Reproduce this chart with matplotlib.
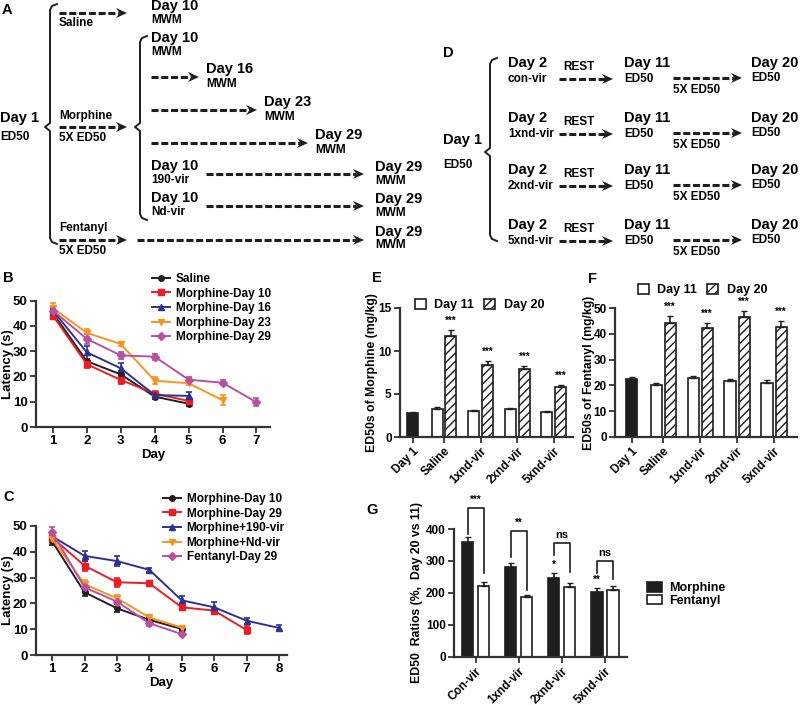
import matplotlib
matplotlib.use('Agg')
import matplotlib.pyplot as plt
import numpy as np
from matplotlib.lines import Line2D
from matplotlib.patches import Patch

plt.rcParams['font.family'] = ['Liberation Sans', 'DejaVu Sans']
plt.rcParams['font.weight'] = 'bold'
plt.rcParams['axes.labelweight'] = 'bold'
plt.rcParams['hatch.linewidth'] = 1.0

W, H = 800, 705
K = '#1e1e1e'
AXC = '#333333'

# ---------------- data ----------------
# panel B: latency per day
b_labels = ['Saline', 'Morphine-Day 10', 'Morphine-Day 16', 'Morphine-Day 23', 'Morphine-Day 29']
b_saline = [45, 26, 20.8, 12, 9.2]
b_saline_err = [1.5, 1.0, 1.0, 0.8, 0.8]
b_m10 = [44, 24.8, 18.6, 13.2, 10.3]
b_m10_err = [1.5, 1.5, 1.5, 1.0, 1.0]
b_m16 = [46, 29.5, 23.2, 12.6, 12.3]
b_m16_err = [1.5, 2.5, 2.0, 1.0, 1.5]
b_m23 = [47, 37.2, 32.8, 18.3, 17.3, 10.6]
b_m23_err = [2.0, 1.5, 0.8, 1.5, 0.8, 2.0]
b_m29 = [46, 34.8, 28.3, 27.8, 18.7, 17.5, 9.8]
b_m29_err = [1.5, 2.0, 1.5, 1.2, 1.0, 1.0, 1.5]

# panel C
c_labels = ['Morphine-Day 10', 'Morphine-Day 29', 'Morphine+190-vir', 'Morphine+Nd-vir', 'Fentanyl-Day 29']
c_m10 = [44, 24.3, 18.1, 13.6, 10.1]
c_m10_err = [1.5, 1.5, 1.5, 1.0, 1.0]
c_m29 = [45.5, 34.6, 28.2, 27.8, 18.5, 17.2, 9.7]
c_m29_err = [1.5, 2.0, 1.8, 1.0, 1.0, 1.0, 1.5]
c_190 = [46, 38.4, 36.4, 33, 21.2, 18.5, 13.3, 10.5]
c_190_err = [1.5, 2.0, 1.8, 0.8, 1.5, 2.0, 1.2, 1.0]
c_nd = [45, 27.4, 22, 14.6, 10.6]
c_nd_err = [1.5, 1.5, 1.2, 1.0, 0.8]
c_fent = [47.5, 26.2, 20.7, 12.3, 8.1]
c_fent_err = [2.0, 1.5, 2.0, 1.0, 0.8]

# panels E, F: ED50
ef_groups = ['Day 1', 'Saline', '1xnd-vir', '2xnd-vir', '5xnd-vir']
e_day1, e_day1_err = 2.8, 0.1
e_d11 = [3.3, 3.0, 3.25, 2.9]
e_d11_err = [0.15, 0.1, 0.1, 0.1]
e_d20 = [11.8, 8.4, 7.9, 5.8]
e_d20_err = [0.6, 0.4, 0.35, 0.3]
f_day1, f_day1_err = 22.3, 1.0
f_d11 = [20.0, 23.0, 21.7, 20.8]
f_d11_err = [1.0, 0.8, 0.8, 1.2]
f_d20 = [44.4, 42.3, 46.6, 42.6]
f_d20_err = [2.6, 2.0, 2.5, 2.5]
ef_stars = ['***', '***', '***', '***']

# panel G: ratios
g_groups = ['Con-vir', '1xnd-vir', '2xnd-vir', '5xnd-vir']
g_morphine = [360, 281, 248, 204]
g_morphine_err = [14, 11, 14, 11]
g_fentanyl = [223, 186, 218, 209]
g_fentanyl_err = [11, 8, 13, 12]
g_pair_sig = ['***', '**', 'ns', 'ns']
g_bar_sig = ['', '', '*', '**']
g_br_top = [466, 394, 357, 300]
g_br_left = [383, 313, 319, 262]
g_br_right = [262, 209, 266, 243]

colors = ['#231f20', '#ed1c24', '#2e3192', '#f7941e', '#b9509f']
markers = ['o', 's', '^', 'v', 'D']

fig = plt.figure(figsize=(W / 100, H / 100), dpi=100)


def px_axes(l, t, r, b):
    return fig.add_axes([l / W, 1 - b / H, (r - l) / W, (b - t) / H])


def style(ax, size=9.5):
    for s in ['top', 'right']:
        ax.spines[s].set_visible(False)
    for s in ['left', 'bottom']:
        ax.spines[s].set_linewidth(1.6)
        ax.spines[s].set_color(AXC)
    ax.tick_params(direction='out', length=4, width=1.3, color=AXC,
                   labelsize=size, pad=2)


# ---------------- schematic overlay (A, D) ----------------
ov = fig.add_axes([0, 0, 1, 1])
ov.set_xlim(0, W)
ov.set_ylim(H, 0)
ov.axis('off')


def txt(x, y, s, big=False):
    ov.text(x, y, s, fontsize=10.5 if big else 8.5, ha='left', va='center')


def darrow(x0, x1, y):
    ov.plot([x0, x1 - 8], [y, y], color=K, lw=2.2, dashes=(2.3, 0.9),
            dash_capstyle='butt')
    ov.fill([x1, x1 - 11, x1 - 7.5, x1 - 11], [y, y - 5, y, y + 5],
            color=K, lw=0)


def brace(x, y0, ym, y1):
    ov.plot([x + 7, x + 2, x, x, x - 5, x, x, x + 2, x + 7],
            [y0 - 2, y0, y0 + 4, ym - 4, ym, ym + 4, y1 - 4, y1, y1 + 2],
            color=K, lw=1.4)


for letter, x, y in [('A', 2, 10), ('B', 3, 278), ('C', 3, 497), ('D', 443, 53),
                     ('E', 372, 278), ('F', 588, 279), ('G', 366, 510)]:
    ov.text(x, y, letter, fontsize=10.5, ha='left', va='center')

# panel A
brace(50, 6, 127, 242)
brace(140, 38, 127, 218)
txt(0, 118, 'Day 1', True)
txt(0, 137, 'ED50')
darrow(59, 127, 13)
txt(59, 23, 'Saline')
txt(151, 6, 'Day 10', True)
txt(151, 20, 'MWM')
txt(59, 116, 'Morphine')
darrow(59, 127, 127)
txt(59, 138, '5X ED50')
txt(151, 38, 'Day 10', True)
txt(151, 52, 'MWM')
for (x1, y, tx) in [(199, 77, 'Day 16'), (257, 110, 'Day 23'), (308, 143, 'Day 29')]:
    darrow(151, x1, y)
    txt(x1 + 7, y - 8, tx, True)
    txt(x1 + 7, y + 7, 'MWM')
for (y, sub) in [(166, '190-vir'), (198, 'Nd-vir')]:
    txt(151, y, 'Day 10', True)
    txt(151, y + 14, sub)
    darrow(206, 364, y + 8)
    txt(375, y + 1, 'Day 29', True)
    txt(375, y + 15, 'MWM')
txt(59, 228, 'Fentanyl')
darrow(59, 127, 240)
darrow(137, 364, 240)
txt(59, 251, '5X ED50')
txt(375, 232, 'Day 29', True)
txt(375, 245, 'MWM')

# panel D
brace(490, 60, 152, 239)
txt(443, 140, 'Day 1', True)
txt(443, 165, 'ED50')
for r, sub in zip([63, 118, 170, 225], ['con-vir', '1xnd-vir', '2xnd-vir', '5xnd-vir']):
    txt(508, r, 'Day 2', True)
    txt(508, r + 16, sub)
    txt(563, r + 4, 'REST')
    darrow(559, 613, r + 16)
    txt(624, r, 'Day 11', True)
    txt(624, r + 16, 'ED50')
    darrow(673, 742, r + 15)
    txt(673, r + 27, '5X ED50')
    txt(751, r, 'Day 20', True)
    txt(751, r + 15, 'ED50')


# ---------------- line panels (B, C) ----------------
def line_panel(box, series, xmax, leg_xy, xlab_y, ylab_x):
    ax = px_axes(*box)
    handles = []
    for (lab, y, e), c, m in zip(series, colors, markers):
        x = np.arange(1, len(y) + 1)
        ax.errorbar(x, y, yerr=e, color=c, marker=m, ms=4, lw=1.4,
                    capsize=2.5, capthick=1.2, elinewidth=1.2, clip_on=False)
        handles.append(Line2D([], [], color=c, marker=m, ms=4, lw=1.4, label=lab))
    ax.set_xlim(0.5, xmax)
    ax.set_ylim(0, 50)
    ax.set_yticks(range(0, 51, 10))
    ax.set_xticks(range(1, int(xmax) + 1))
    ax.set_xlabel('Day', fontsize=9.5)
    ax.set_ylabel('Latency (s)', fontsize=9.5)
    ax.xaxis.set_label_coords(0.5, xlab_y)
    ax.yaxis.set_label_coords(ylab_x, 0.5)
    style(ax)
    fig.legend(handles=handles, loc='upper left',
               bbox_to_anchor=(leg_xy[0] / W, 1 - leg_xy[1] / H),
               frameon=False, fontsize=8.5, handlelength=1.5, handletextpad=0.5,
               labelspacing=0.22, borderpad=0, borderaxespad=0)
    return ax


line_panel((36, 300.5, 270, 427),
           list(zip(b_labels, [b_saline, b_m10, b_m16, b_m23, b_m29],
                    [b_saline_err, b_m10_err, b_m16_err, b_m23_err, b_m29_err])),
           7.4, (152, 273), -0.17, -0.094)
line_panel((36, 526, 287, 655),
           list(zip(c_labels, [c_m10, c_m29, c_190, c_nd, c_fent],
                    [c_m10_err, c_m29_err, c_190_err, c_nd_err, c_fent_err])),
           8.25, (163, 493), -0.17, -0.088)


# ---------------- bar panels (E, F) ----------------
def ed50_panel(box, day1, day1_err, d11, d11_err, d20, d20_err, ymax, ystep,
               xlim, ylabel, ylab_x, leg_xy):
    ax = px_axes(*box)
    w, off, x1 = 0.3, 0.19, 0.15
    xs = np.arange(1, len(d11) + 1)
    ax.bar(x1, day1, w, color=K, edgecolor=K, lw=1.2)
    ax.errorbar([x1], [day1], yerr=[[0], [day1_err]], fmt='none', ecolor=K,
                capsize=2.5, elinewidth=1.2)
    ax.bar(xs - off, d11, w, color='white', edgecolor=K, lw=1.2)
    ax.errorbar(xs - off, d11, yerr=[np.zeros(len(d11)), d11_err], fmt='none',
                ecolor=K, capsize=2.5, elinewidth=1.2)
    ax.bar(xs + off, d20, w, color='white', edgecolor=K, lw=1.2, hatch='////')
    ax.errorbar(xs + off, d20, yerr=[np.zeros(len(d20)), d20_err], fmt='none',
                ecolor=K, capsize=2.5, elinewidth=1.2)
    for xi, v, e, s in zip(xs + off, d20, d20_err, ef_stars):
        ax.annotate(s, (xi, v + e), xytext=(0, 3), textcoords='offset points',
                    ha='center', va='bottom', fontsize=7)
    ax.set_xlim(*xlim)
    ax.set_ylim(0, ymax)
    ax.set_yticks(np.arange(0, ymax + 1, ystep))
    ax.set_xticks([x1, *xs])
    ax.set_xticklabels(ef_groups, rotation=45, ha='right', va='top',
                       rotation_mode='anchor')
    ax.set_ylabel(ylabel, fontsize=8.8)
    ax.yaxis.set_label_coords(ylab_x, 0.5)
    style(ax, 8.5)
    fig.legend(handles=[Patch(facecolor='white', edgecolor=K, lw=1.2),
                        Patch(facecolor='white', edgecolor=K, lw=1.2, hatch='////')],
               labels=['Day 11', 'Day 20'], loc='center left', ncol=2,
               bbox_to_anchor=(leg_xy[0] / W, 1 - leg_xy[1] / H),
               frameon=False, fontsize=9, handlelength=0.85, handleheight=0.85,
               handletextpad=0.7, columnspacing=0.8, borderpad=0, borderaxespad=0)
    return ax


ed50_panel((400, 308, 573, 437), e_day1, e_day1_err, e_d11, e_d11_err, e_d20,
           e_d20_err, 15, 5, (-0.2, 4.52), 'ED50s of Morphine (mg/kg)', -0.125,
           (415, 305))
ed50_panel((615, 308.3, 797, 436.7), f_day1, f_day1_err, f_d11, f_d11_err, f_d20,
           f_d20_err, 50, 10, (-0.3, 4.62), 'ED50s of Fentanyl (mg/kg)', -0.112,
           (638, 290))

# ---------------- panel G ----------------
ax = px_axes(454, 529, 627, 656.7)
w, off = 0.26, 0.186
xs = np.arange(len(g_groups))
ax.bar(xs - off, g_morphine, w, color=K, edgecolor=K, lw=1.2)
ax.errorbar(xs - off, g_morphine, yerr=[np.zeros(4), g_morphine_err], fmt='none',
            ecolor=K, capsize=2.5, elinewidth=1.2)
ax.bar(xs + off, g_fentanyl, w, color='white', edgecolor=K, lw=1.2)
ax.errorbar(xs + off, g_fentanyl, yerr=[np.zeros(4), g_fentanyl_err], fmt='none',
            ecolor=K, capsize=2.5, elinewidth=1.2)
for i in range(len(g_groups)):
    ax.plot([i - off, i - off, i + off, i + off],
            [g_br_left[i], g_br_top[i], g_br_top[i], g_br_right[i]],
            color=K, lw=1.2, clip_on=False)
    ax.annotate(g_pair_sig[i], (i, g_br_top[i]), xytext=(0, 2),
                textcoords='offset points', ha='center', va='bottom',
                fontsize=7 if '*' in g_pair_sig[i] else 8, annotation_clip=False)
    if g_bar_sig[i]:
        ax.annotate(g_bar_sig[i], (i - off, g_morphine[i] + g_morphine_err[i]),
                    xytext=(0, 2), textcoords='offset points', ha='center',
                    va='bottom', fontsize=7)
ax.set_xlim(-0.5, 3.51)
ax.set_ylim(0, 400)
ax.set_yticks(range(0, 401, 100))
ax.set_xticks(xs)
ax.set_xticklabels(g_groups, rotation=45, ha='right', va='top', rotation_mode='anchor')
ax.set_ylabel('ED50  Ratios (%,  Day 20 vs 11)', fontsize=8.8)
ax.yaxis.set_label_coords(-0.18, 0.5)
style(ax, 8.5)
fig.legend(handles=[Patch(facecolor=K, edgecolor=K, lw=1.2),
                    Patch(facecolor='white', edgecolor=K, lw=1.2)],
           labels=['Morphine', 'Fentanyl'], loc='center left',
           bbox_to_anchor=(647 / W, 1 - 594.5 / H), frameon=False, fontsize=9,
           handlelength=1.2, handleheight=0.8, handletextpad=0.55,
           labelspacing=0.05, borderpad=0, borderaxespad=0)

fig.savefig('out.png', dpi=100)
